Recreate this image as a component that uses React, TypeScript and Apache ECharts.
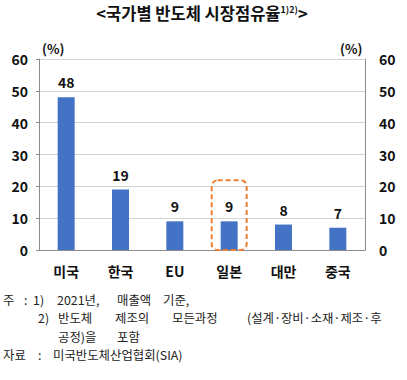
import React, { useEffect, useRef } from "react";
import * as echarts from "echarts";

const categories = ["미국", "한국", "EU", "일본", "대만", "중국"];
const shares = [48, 19, 9, 9, 8, 7];
const yTicks = { min: 0, max: 60, interval: 10 };
const highlightCategory = "일본";
const highlightTop = 21.9;

const FONT = "'Noto Sans CJK KR', 'Noto Sans', sans-serif";

export default function App() {
  const ref = useRef<HTMLDivElement>(null);
  useEffect(() => {
    if (!ref.current) return;
    const chart = echarts.init(ref.current, null, { renderer: "svg" });
    const axisCommon = {
      type: "value" as const,
      min: yTicks.min,
      max: yTicks.max,
      interval: yTicks.interval,
      axisLine: { show: true, lineStyle: { color: "#8c8c8c", width: 1 } },
      axisTick: { show: true, length: 3, lineStyle: { color: "#8c8c8c" } },
      splitLine: { show: true, lineStyle: { color: "#d4d4d4", width: 1 } },
    };
    const foot = (text: string, x: number, y: number) => ({
      type: "text",
      x,
      y,
      style: {
        text,
        font: `12.4px ${FONT}`,
        lineHeight: 13,
        fill: "#222",
        textVerticalAlign: "middle",
      },
    });
    chart.setOption({
      animation: false,
      grid: { left: 39, right: 42, top: 59, bottom: 130 },
      xAxis: {
        type: "category",
        data: categories,
        axisLine: { lineStyle: { color: "#8c8c8c" } },
        axisTick: { show: false },
        axisLabel: { fontFamily: FONT, fontSize: 14, fontWeight: "bold", color: "#111", margin: 14 },
      },
      yAxis: [
        {
          ...axisCommon,
          position: "left",
          axisLabel: { fontFamily: FONT, fontSize: 14, fontWeight: "bold", color: "#111", margin: 11 },
        },
        {
          ...axisCommon,
          position: "right",
          axisTick: { show: false },
          splitLine: { show: false },
          axisLabel: { fontFamily: FONT, fontSize: 14, fontWeight: "bold", color: "#111", margin: 14 },
        },
      ],
      series: [
        {
          type: "bar",
          data: shares,
          barWidth: 17,
          itemStyle: { color: "#4472C4" },
          label: {
            show: true,
            position: "top",
            distance: 8,
            fontFamily: FONT,
            fontSize: 14,
            fontWeight: "bold",
            color: "#111",
          },
        },
      ],
      graphic: [
        {
          type: "text",
          x: 202,
          y: 13,
          style: {
            text: "{a|<국가별 반도체 시장점유율}{s|1)2)}{a|>}",
            align: "center",
            verticalAlign: "middle",
            rich: {
              a: { font: `bold 16.5px ${FONT}`, fill: "#111", verticalAlign: "bottom" },
              s: { font: `bold 9px ${FONT}`, fill: "#111", verticalAlign: "top" },
            },
          },
        },
        { type: "text", x: 42, y: 48, style: { text: "(%)", font: `bold 13px ${FONT}`, fill: "#111", textVerticalAlign: "middle" } },
        { type: "text", x: 340, y: 48, style: { text: "(%)", font: `bold 13px ${FONT}`, fill: "#111", textVerticalAlign: "middle" } },
        foot("주", 3, 299.5),
        foot(":", 24, 299.5),
        foot("1)", 33, 299.5),
        foot("2021년,", 57, 299.5),
        foot("매출액", 117, 299.5),
        foot("기준,", 163, 299.5),
        foot("2)", 38, 318),
        foot("반도체", 58, 318),
        foot("제조의", 115, 318),
        foot("모든과정", 172, 318),
        foot("(설계·장비·소재·제조·후", 247, 318),
        foot("공정)을", 58, 336.5),
        foot("포함", 117, 336.5),
        foot("자료", 3, 355),
        foot(":", 38, 355),
        foot("미국반도체산업협회(SIA)", 53, 355),
      ],
    });
    const cx = chart.convertToPixel({ xAxisIndex: 0 }, highlightCategory) as number;
    const yTop = chart.convertToPixel({ yAxisIndex: 0 }, highlightTop) as number;
    const yBottom = chart.convertToPixel({ yAxisIndex: 0 }, 0) as number;
    chart.setOption({
      graphic: [
        {
          id: "box",
          type: "rect",
          shape: { x: cx - 17.5, y: yTop, width: 35, height: yBottom - yTop, r: 6 },
          style: { fill: "none", stroke: "#ED7D31", lineWidth: 2, lineDash: [5, 3] },
          z: 10,
        },
      ],
    });
    return () => chart.dispose();
  }, []);
  return (
    <div
      ref={ref}
      style={{ position: "absolute", left: 0, top: 0, width: 407, height: 380 }}
    />
  );
}
